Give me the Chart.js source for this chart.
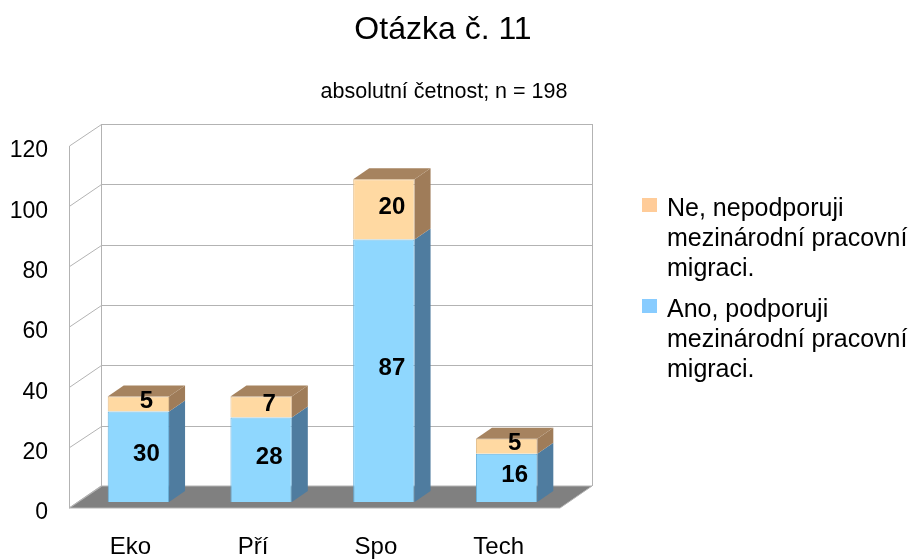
<!DOCTYPE html>
<html>
<head>
<meta charset="utf-8">
<script src="https://cdn.jsdelivr.net/npm/chart.js@4.4.1/dist/chart.umd.min.js"></script>
<style>
  html, body { margin: 0; padding: 0; background: #fff; }
  #wrap { width: 912px; height: 559px; }
</style>
</head>
<body>
<div id="wrap"><canvas id="myChart" width="912" height="559"></canvas></div>
<script>
const categories = ['Eko', 'Pří', 'Spo', 'Tech'];
const anoValues = [30, 28, 87, 16];
const neValues = [5, 7, 20, 5];
const anoLabel = 'Ano, podporuji mezinárodní pracovní migraci.';
const neLabel = 'Ne, nepodporuji mezinárodní pracovní migraci.';
const yTicks = [0, 20, 40, 60, 80, 100, 120];
const MIN_VALUE = 0;
const MAX_VALUE = 120;

const titleText = 'Otázka č. 11';
const subtitleText = 'absolutní četnost; n = 198';

const FONT = "'Liberation Sans', Arial, sans-serif";
const GRID_COLOR = '#b3b3b3';
const FLOOR_COLOR = '#808080';

// depth of the walls (front -> back) and of the bars
const WALL_DX = 32, WALL_DY = -22;
const BAR_SHIFT_X = 8, BAR_SHIFT_Y = -6;
const BAR_DX = 16, BAR_DY = -11;

// colours: front, side, top, legend swatch
const anoColors = { front: '#8fd7fe', border: '#66b0dc', side: '#4f7c9f', top: '#5b8db3', legend: '#88ccff' };
const neColors = { front: '#ffd9a2', border: '#e3bd89', side: '#9f7c59', top: '#a6835f', legend: '#ffcc99' };

function wrapText(ctx, text, maxWidth) {
  const words = text.split(' ');
  const lines = [];
  let line = '';
  words.forEach(w => {
    const test = line ? line + ' ' + w : w;
    if (line && ctx.measureText(test).width > maxWidth) {
      lines.push(line);
      line = w;
    } else {
      line = test;
    }
  });
  if (line) lines.push(line);
  return lines;
}

const depth3d = {
  id: 'depth3d',
  beforeDatasetsDraw(chart) {
    const { ctx, chartArea: a, scales: { y } } = chart;
    ctx.save();
    // floor
    ctx.beginPath();
    ctx.moveTo(a.left, a.bottom);
    ctx.lineTo(a.left + WALL_DX, a.bottom + WALL_DY);
    ctx.lineTo(a.right + WALL_DX, a.bottom + WALL_DY);
    ctx.lineTo(a.right, a.bottom);
    ctx.closePath();
    ctx.fillStyle = FLOOR_COLOR;
    ctx.fill();
    ctx.strokeStyle = GRID_COLOR;
    ctx.lineWidth = 1;
    ctx.stroke();

    // back wall + side wall grid
    ctx.beginPath();
    const top = y.getPixelForValue(MAX_VALUE);
    const bx = Math.round(a.left + WALL_DX) + 0.5;
    const rx = Math.round(a.right + WALL_DX) + 0.5;
    ctx.moveTo(bx, top + WALL_DY); ctx.lineTo(bx, a.bottom + WALL_DY);
    ctx.moveTo(rx, top + WALL_DY); ctx.lineTo(rx, a.bottom + WALL_DY);
    ctx.moveTo(a.left + 0.5, top); ctx.lineTo(a.left + 0.5, a.bottom);
    yTicks.forEach(v => {
      const py = y.getPixelForValue(v);
      const gy = Math.round(py + WALL_DY) + 0.5;
      if (v > MIN_VALUE) {
        ctx.moveTo(bx, gy); ctx.lineTo(rx, gy);
      }
      ctx.moveTo(a.left + 0.5, py); ctx.lineTo(bx, gy);
    });
    ctx.strokeStyle = GRID_COLOR;
    ctx.stroke();
    ctx.restore();

    ctx.save();
    ctx.translate(BAR_SHIFT_X, BAR_SHIFT_Y);
  },
  afterDatasetsDraw(chart) {
    const { ctx } = chart;
    const nSets = chart.data.datasets.length;
    chart.data.datasets.forEach((ds, di) => {
      const meta = chart.getDatasetMeta(di);
      const cols = di === 0 ? anoColors : neColors;
      meta.data.forEach((el, i) => {
        const { x, y, base, width } = el.getProps(['x', 'y', 'base', 'width'], true);
        const l = x - width / 2, r = x + width / 2;
        // side face
        ctx.beginPath();
        ctx.moveTo(r, y);
        ctx.lineTo(r + BAR_DX, y + BAR_DY);
        ctx.lineTo(r + BAR_DX, base + BAR_DY);
        ctx.lineTo(r, base);
        ctx.closePath();
        ctx.fillStyle = cols.side;
        ctx.fill();
        // top face only on the highest segment
        let isTop = true;
        for (let k = di + 1; k < nSets; k++) {
          if (chart.data.datasets[k].data[i] > 0) isTop = false;
        }
        if (isTop) {
          ctx.beginPath();
          ctx.moveTo(l, y);
          ctx.lineTo(l + BAR_DX, y + BAR_DY);
          ctx.lineTo(r + BAR_DX, y + BAR_DY);
          ctx.lineTo(r, y);
          ctx.closePath();
          ctx.fillStyle = cols.top;
          ctx.fill();
        }
      });
    });

    // value labels
    ctx.fillStyle = '#000';
    ctx.font = 'bold 24px ' + FONT;
    ctx.textAlign = 'center';
    ctx.textBaseline = 'middle';
    chart.data.datasets.forEach((ds, di) => {
      chart.getDatasetMeta(di).data.forEach((el, i) => {
        const { x, y, base } = el.getProps(['x', 'y', 'base'], true);
        ctx.fillText(String(ds.data[i]), x + BAR_DX / 2, (y + base) / 2 + BAR_DY / 2 + 3);
      });
    });
    ctx.restore();
  },
  afterDraw(chart) {
    const { ctx } = chart;
    ctx.save();
    ctx.fillStyle = '#000';
    ctx.textAlign = 'center';
    ctx.textBaseline = 'middle';
    ctx.font = '32px ' + FONT;
    ctx.fillText(titleText, 443, 30);
    ctx.font = '21.5px ' + FONT;
    ctx.fillText(subtitleText, 444, 92);

    // legend (reverse order, like the stack)
    ctx.font = '25px ' + FONT;
    ctx.textAlign = 'left';
    let ly = 209;
    const items = chart.data.datasets.map((ds, di) => ({ label: ds.label, color: (di === 0 ? anoColors : neColors).legend })).reverse();
    items.forEach(it => {
      ctx.fillStyle = it.color;
      ctx.fillRect(642, ly - 11, 15, 14);
      ctx.fillStyle = '#000';
      const lines = wrapText(ctx, it.label, 246);
      lines.forEach((ln, k) => ctx.fillText(ln, 667, ly + k * 30));
      ly += lines.length * 30 + 11;
    });
    ctx.restore();
  }
};

const ctxt = document.getElementById('myChart').getContext('2d');

const myChart = new Chart(ctxt, {
  type: 'bar',
  data: {
    labels: categories,
    datasets: [
      {
        label: anoLabel,
        data: anoValues,
        backgroundColor: anoColors.front,
        borderColor: anoColors.border,
        borderWidth: 1
      },
      {
        label: neLabel,
        data: neValues,
        backgroundColor: neColors.front,
        borderColor: neColors.border,
        borderWidth: 1
      }
    ]
  },
  options: {
    responsive: false,
    animation: false,
    devicePixelRatio: 1,
    layout: { padding: { top: 146, right: 352, left: 0, bottom: 0 } },
    datasets: { bar: { categoryPercentage: 1.0, barPercentage: 0.5 } },
    plugins: {
      legend: { display: false },
      tooltip: { enabled: false }
    },
    scales: {
      x: {
        stacked: true,
        grid: { display: false, drawTicks: false },
        border: { display: false },
        ticks: { color: '#000', font: { family: FONT, size: 24 }, padding: 25 },
        afterFit: s => { s.height = 51; }
      },
      y: {
        stacked: true,
        min: MIN_VALUE,
        max: MAX_VALUE,
        grid: { display: false, drawTicks: false },
        border: { display: false },
        afterBuildTicks: s => { s.ticks = yTicks.map(v => ({ value: v })); },
        ticks: { color: '#000', font: { family: FONT, size: 23 }, padding: 21, labelOffset: 5 },
        afterFit: s => { s.width = 69; }
      }
    }
  },
  plugins: [depth3d]
});
</script>
</body>
</html>
